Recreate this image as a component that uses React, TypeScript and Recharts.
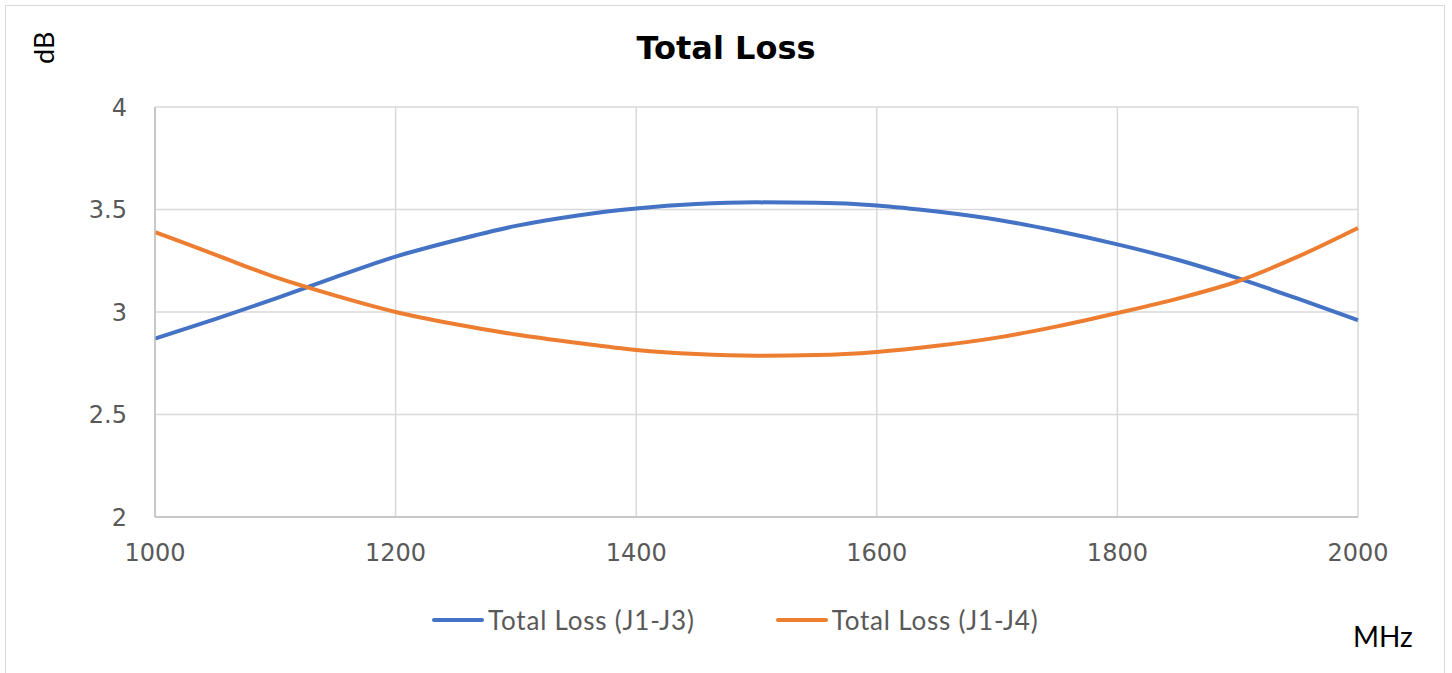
import { LineChart, Line, XAxis, YAxis, CartesianGrid } from "recharts";

const freqs = [1000, 1050, 1100, 1150, 1200, 1250, 1300, 1350, 1400, 1450, 1500,
  1550, 1600, 1650, 1700, 1750, 1800, 1850, 1900, 1950, 2000];

const lossJ3 = [2.87, 2.965, 3.065, 3.17, 3.27, 3.35, 3.42, 3.47, 3.505, 3.527, 3.535,
  3.533, 3.52, 3.49, 3.45, 3.395, 3.33, 3.255, 3.165, 3.065, 2.96];

const lossJ4 = [3.39, 3.28, 3.17, 3.08, 3.0, 2.94, 2.89, 2.85, 2.815, 2.795, 2.787,
  2.79, 2.805, 2.835, 2.875, 2.93, 2.995, 3.065, 3.15, 3.27, 3.41];

const xTicks = [1000, 1200, 1400, 1600, 1800, 2000];
const yTicks = [2, 2.5, 3, 3.5, 4];

const SERIES = [
  { key: "j3", name: "Total Loss (J1-J3)", color: "#4472C4" },
  { key: "j4", name: "Total Loss (J1-J4)", color: "#ED7D31" },
];

const FONT = "Lato, 'Open Sans', sans-serif";
const TICK_FONT = "'DejaVu Sans', sans-serif";

export default function App() {
  const data = freqs.map((f, i) => ({ freq: f, j3: lossJ3[i], j4: lossJ4[i] }));

  return (
    <div style={{ position: "absolute", left: 0, top: 0, width: 1452, height: 673, background: "#fff" }}>
      <div style={{ position: "absolute", left: 5, top: 5, width: 1440, height: 670,
        border: "1.5px solid #d9d9d9", boxSizing: "border-box" }} />
      <div style={{ position: "absolute", left: 0, top: 29, width: 1452, textAlign: "center",
        fontFamily: TICK_FONT, fontWeight: 700, fontSize: 32, color: "#000" }}>
        Total Loss
      </div>
      <div style={{ position: "absolute", left: 27, top: 64, transform: "rotate(-90deg)",
        transformOrigin: "left top", fontFamily: FONT, fontSize: 27, color: "#000" }}>
        dB
      </div>
      <div style={{ position: "absolute", left: 1353, top: 619, fontFamily: FONT,
        fontSize: 28, color: "#000" }}>
        MHz
      </div>

      {/* legend */}
      <div style={{ position: "absolute", left: 432, top: 604, display: "flex", gap: 81,
        fontFamily: FONT, fontSize: 26, letterSpacing: 0.8, color: "#595959" }}>
        {SERIES.map((s) => (
          <div key={s.key} style={{ display: "flex", alignItems: "center" }}>
            <div style={{ width: 52, height: 4, background: s.color, borderRadius: 2, marginRight: 4 }} />
            <span>{s.name}</span>
          </div>
        ))}
      </div>

      <div style={{ position: "absolute", left: 0, top: 0 }}>
        <LineChart width={1452} height={673} data={data}
          margin={{ top: 107, right: 94, bottom: 116, left: 0 }}>
          <CartesianGrid stroke="#d9d9d9" strokeWidth={1.5} />
          <XAxis dataKey="freq" type="number" domain={[1000, 2000]} ticks={xTicks}
            tickLine={false} tickSize={0} tickMargin={27} height={40}
            axisLine={{ stroke: "#bfbfbf", strokeWidth: 1.5 }}
            tick={{ fontSize: 24, fill: "#595959", fontFamily: TICK_FONT }} />
          <YAxis type="number" domain={[2, 4]} ticks={yTicks} width={155}
            tickLine={false} tickSize={0} tickMargin={28}
            axisLine={{ stroke: "#bfbfbf", strokeWidth: 1.5 }}
            tick={{ fontSize: 24, fill: "#595959", fontFamily: TICK_FONT }} />
          {SERIES.map((s) => (
            <Line key={s.key} type="monotone" dataKey={s.key} name={s.name} stroke={s.color}
              strokeWidth={4} dot={false} isAnimationActive={false} />
          ))}
        </LineChart>
      </div>
    </div>
  );
}
